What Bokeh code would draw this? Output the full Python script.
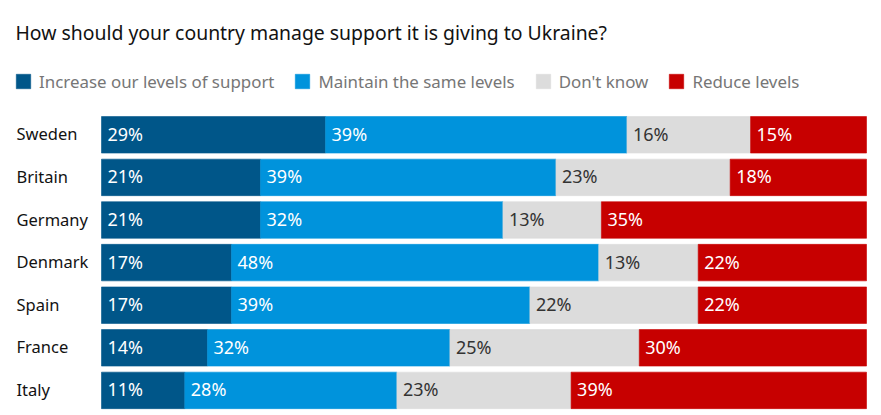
from bokeh.plotting import figure
from bokeh.models import ColumnDataSource, Range1d, Label, LabelSet, Legend, LegendItem
from bokeh.core.properties import value
from bokeh.embed import file_html
from bokeh.resources import INLINE

# ---- data ----
countries = ["Sweden", "Britain", "Germany", "Denmark", "Spain", "France", "Italy"]
increase = [29, 21, 21, 17, 17, 14, 11]
maintain = [39, 39, 32, 48, 39, 32, 28]
dont_know = [16, 23, 13, 13, 22, 25, 23]
reduce_levels = [15, 18, 35, 22, 22, 30, 39]
series_names = ["Increase our levels of support", "Maintain the same levels",
                "Don't know", "Reduce levels"]
title_text = "How should your country manage support it is giving to Ukraine?"

colors = ["#005689", "#0093dc", "#dcdcdc", "#c70000"]
label_colors = ["#ffffff", "#ffffff", "#333333", "#ffffff"]
FONT = "Noto Sans"

# ---- layout (pixels) ----
W, H = 881, 415
BAR_L, BAR_R = 101, 866
ROW0, PITCH = 134.3, 42.6

series = [increase, maintain, dont_know, reduce_levels]
totals = [sum(v) for v in zip(*series)]
ys = list(range(len(countries)))

span = BAR_R - BAR_L
xr = Range1d(-BAR_L / span, 1 + (W - BAR_R) / span)
yr = Range1d((H - ROW0) / PITCH, -ROW0 / PITCH)

p = figure(width=W, height=H, x_range=xr, y_range=yr,
           output_backend="svg", toolbar_location=None,
           x_axis_location=None, y_axis_location=None,
           min_border=0, outline_line_color=None)
p.grid.visible = False

left = [0.0] * len(countries)
legend_items = []
for name, vals, col, lcol in zip(series_names, series, colors, label_colors):
    right = [l + v / t for l, v, t in zip(left, vals, totals)]
    src = ColumnDataSource(dict(y=ys, left=left, right=right,
                                label=[f"{v}%" for v in vals]))
    r = p.hbar(y="y", left="left", right="right", height=0.857, source=src,
               fill_color=col, line_color=col, line_width=0.6)
    legend_items.append(LegendItem(label=name, renderers=[r]))
    p.add_layout(LabelSet(x="left", y="y", text="label", source=src,
                          x_offset=6, y_offset=1, text_baseline="middle",
                          text_font=value(FONT), text_font_size="18px",
                          text_color=lcol))
    left = right

csrc = ColumnDataSource(dict(y=ys, country=countries))
p.add_layout(LabelSet(x=16, x_units="screen", y="y", text="country",
                      source=csrc, text_baseline="middle", y_offset=1,
                      text_font=value(FONT), text_font_size="16.5px",
                      text_color="#121212"))

legend = Legend(items=legend_items, orientation="horizontal",
                location=(14, H - 92.5), glyph_width=18, glyph_height=18,
                label_standoff=7, spacing=19, padding=0, margin=0,
                border_line_color=None, background_fill_alpha=0,
                label_text_font=FONT, label_text_font_size="16.9px",
                label_text_color="#767676", label_height=18)
p.add_layout(legend)

p.add_layout(Label(x=15, y=H - 32.3, x_units="screen", y_units="screen",
                   text=title_text, text_font=FONT, text_font_size="19.4px",
                   text_color="#121212", text_baseline="alphabetic"))

open("out.html", "w").write(file_html(p, INLINE))
